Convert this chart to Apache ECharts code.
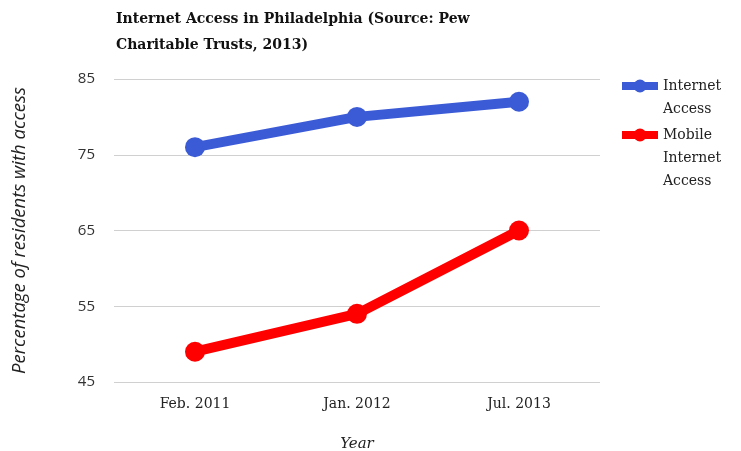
<!DOCTYPE html>
<html>
<head>
<meta charset="utf-8">
<script src="https://cdn.jsdelivr.net/npm/echarts@6/dist/echarts.min.js"></script>
<style>
  html, body { margin: 0; padding: 0; background: #fff; }
  #main { width: 741px; height: 451px; }
</style>
</head>
<body>
<div id="main"></div>
<script>
const years = ["Feb. 2011", "Jan. 2012", "Jul. 2013"];
const internetAccess = [76, 80, 82];
const mobileAccess = [49, 54, 65];
const yTicks = [45, 55, 65, 75, 85];
const seriesNames = ["Internet\nAccess", "Mobile\nInternet\nAccess"];

const chart = echarts.init(document.getElementById("main"));

const serif = "DejaVu Serif";
const sans = "Open Sans";
const lineH = 23;

// one legend per series; blank lines in front keep the first text line level with the icon
function legendFor(name, iconY) {
  const lines = name.split("\n").length;
  const total = lines * 2 - 1;
  return {
    orient: "vertical",
    left: 618,
    top: iconY - (total * lineH) / 2,
    padding: 0,
    itemWidth: 36,
    itemHeight: 16,
    lineStyle: { width: 8 },
    textStyle: { fontFamily: serif, fontSize: 14, lineHeight: lineH, color: "#222" },
    formatter: (n) => "\n".repeat(lines - 1) + n,
    data: [name],
  };
}

chart.setOption({
  animation: false,
  title: {
    text: "Internet Access in Philadelphia (Source: Pew\nCharitable Trusts, 2013)",
    left: 111,
    top: 1,
    textStyle: {
      fontFamily: serif,
      fontWeight: "bold",
      fontSize: 14,
      lineHeight: 26,
      color: "#111",
    },
  },
  legend: [legendFor(seriesNames[0], 86), legendFor(seriesNames[1], 135)],
  grid: { left: 114, right: 141, top: 79, bottom: 69, containLabel: false, outerBoundsMode: "none" },
  xAxis: {
    type: "category",
    data: years,
    boundaryGap: true,
    axisLine: { show: false },
    axisTick: { show: false },
    axisLabel: {
      margin: 15,
      fontFamily: serif,
      fontSize: 14,
      color: "#222",
    },
    name: "Year",
    nameLocation: "middle",
    nameGap: 55,
    nameTextStyle: {
      fontFamily: serif,
      fontStyle: "italic",
      fontSize: 15,
      color: "#222",
    },
  },
  yAxis: {
    type: "value",
    min: 45,
    max: 85,
    interval: 10,
    axisLine: { show: false },
    axisTick: { show: false },
    splitLine: { lineStyle: { color: "#d0d0d0", width: 1 } },
    axisLabel: {
      margin: 19,
      fontFamily: sans,
      fontSize: 15,
      color: "#333",
      formatter: (v) => (yTicks.includes(v) ? String(v) : ""),
    },
    name: "Percentage of residents with access",
    nameLocation: "middle",
    nameGap: 85,
    nameTextStyle: {
      fontFamily: sans,
      fontStyle: "italic",
      fontSize: 18.5,
      color: "#222",
    },
  },
  series: [
    {
      name: seriesNames[0],
      type: "line",
      data: internetAccess,
      symbol: "circle",
      symbolSize: 20,
      color: "#3b5bd6",
      lineStyle: { width: 10, color: "#3b5bd6" },
      itemStyle: { color: "#3b5bd6" },
    },
    {
      name: seriesNames[1],
      type: "line",
      data: mobileAccess,
      symbol: "circle",
      symbolSize: 20,
      color: "#ff0000",
      lineStyle: { width: 10, color: "#ff0000" },
      itemStyle: { color: "#ff0000" },
    },
  ],
});
</script>
</body>
</html>
